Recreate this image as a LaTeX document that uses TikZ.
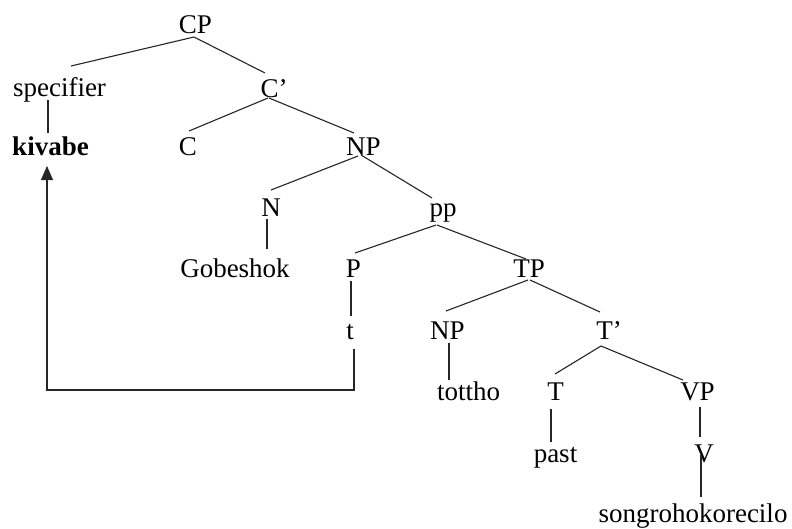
\documentclass[tikz,border=0pt]{standalone}
\usepackage{fontspec}
\setmainfont{Liberation Serif}
\usetikzlibrary{arrows.meta}
\begin{document}
\begin{tikzpicture}[x=1pt,y=-1pt,
  lab/.style={anchor=base,inner sep=0pt,font=\fontsize{27}{32}\selectfont},
  branch/.style={line width=1.1pt,draw=black!85},
  movearrow/.style={line width=1.1pt,draw=black!85,-{Triangle[length=14pt,width=12pt]}}]
\useasboundingbox[fill=white] (0,0) rectangle (792,528);

% labels of the tree, placed on their baselines
\node[lab] (CP)     at (195.5,33)  {CP};
\node[lab] (spec)   at (59.5,96)   {specifier};
\node[lab] (Cbar)   at (274,97)    {C’};
\node[lab,font=\fontsize{27}{32}\selectfont\bfseries] (kivabe) at (50.5,155) {kivabe};
\node[lab] (C)      at (188,155)   {C};
\node[lab] (NPa)    at (363.5,155) {NP};
\node[lab] (N)      at (271,216)   {N};
\node[lab] (pp)     at (443,216)   {pp};
\node[lab] (gob)    at (235,277)   {Gobeshok};
\node[lab] (P)      at (353.5,277) {P};
\node[lab] (TP)     at (529,277)   {TP};
\node[lab] (t)      at (350,339)   {t};
\node[lab] (NPb)    at (447.5,339) {NP};
\node[lab] (Tbar)   at (609,339)   {T’};
\node[lab] (tottho) at (468.5,400) {tottho};
\node[lab] (T)      at (555.5,400) {T};
\node[lab] (VP)     at (697.5,400) {VP};
\node[lab] (past)   at (555.5,462) {past};
\node[lab] (V)      at (704,462)   {V};
\node[lab] (song)   at (693,522)   {songrohokorecilo};

% branches
\draw[branch] ([shift={(-1.5,4)}]CP.base) -- ([shift={(11.5,-30)}]spec.base);
\draw[branch] ([shift={(-1.5,4)}]CP.base) -- ([shift={(-9,-24)}]Cbar.base);
\draw[branch] ([shift={(-11.5,4)}]spec.base) -- ([shift={(-2.5,-22)}]kivabe.base);
\draw[branch] ([shift={(-6,1)}]Cbar.base) -- ([shift={(1,-24)}]C.base);
\draw[branch] ([shift={(-5,1)}]Cbar.base) -- ([shift={(-9.5,-22)}]NPa.base);
\draw[branch] ([shift={(-5.5,1)}]NPa.base) -- ([shift={(0,-26)}]N.base);
\draw[branch] ([shift={(-2.5,0)}]NPa.base) -- ([shift={(-11,-18)}]pp.base);
\draw[branch] ([shift={(-4,3)}]N.base) -- ([shift={(32,-28)}]gob.base);
\draw[branch] ([shift={(-7,9)}]pp.base) -- ([shift={(1.5,-24)}]P.base);
\draw[branch] ([shift={(-6,9)}]pp.base) -- ([shift={(-3,-18)}]TP.base);
\draw[branch] ([shift={(-2.5,4)}]P.base) -- ([shift={(1,-23)}]t.base);
\draw[branch] ([shift={(-1,3)}]TP.base) -- ([shift={(-1.5,-28)}]NPb.base);
\draw[branch] ([shift={(1,3)}]TP.base) -- ([shift={(-9,-27)}]Tbar.base);
\draw[branch] ([shift={(1.5,4)}]NPb.base) -- ([shift={(-19.5,-20)}]tottho.base);
\draw[branch] ([shift={(-8,7)}]Tbar.base) -- ([shift={(-0.5,-26)}]T.base);
\draw[branch] ([shift={(-8,7)}]Tbar.base) -- ([shift={(-14.5,-20)}]VP.base);
\draw[branch] ([shift={(-4.5,9)}]T.base) -- ([shift={(-4.5,-20)}]past.base);
\draw[branch] ([shift={(2.5,7)}]VP.base) -- ([shift={(-4,-25)}]V.base);
\draw[branch] ([shift={(-3,-7)}]V.base) -- ([shift={(8,-25)}]song.base);

% movement of the trace up to the specifier
\draw[movearrow] ([shift={(4,10)}]t.base) -- ++(0,41) -| ([shift={(-3.5,11)}]kivabe.base);
\end{tikzpicture}
\end{document}
